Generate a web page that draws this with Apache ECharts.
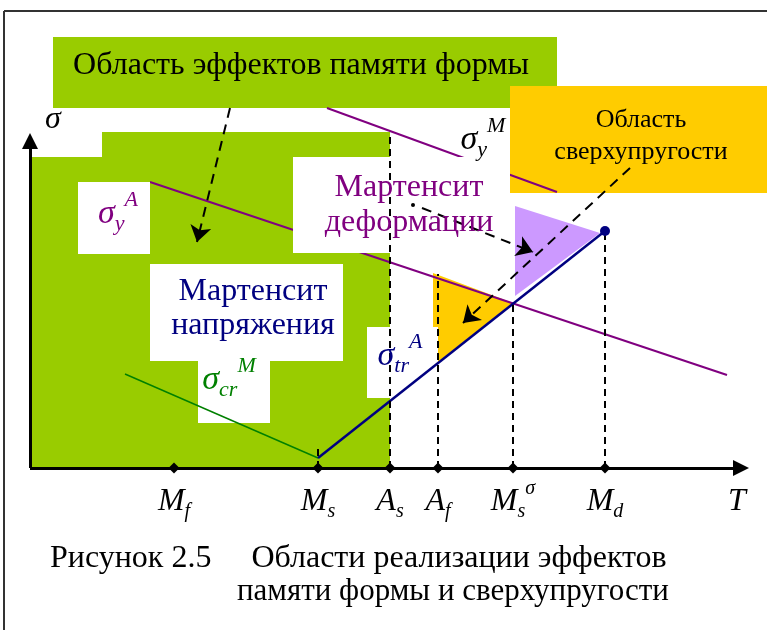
<!DOCTYPE html>
<html>
<head>
<meta charset="utf-8">
<script src="https://cdn.jsdelivr.net/npm/echarts@6/dist/echarts.min.js"></script>
<style>
    html, body { margin: 0; padding: 0; background: #fff; }
    #chart { width: 767px; height: 630px; }
</style>
</head>
<body>
<div id="chart"></div>
<script>
// Температуры на оси T (условные единицы)
const tickT = [14.4, 28.8, 36, 40.8, 48.3, 57.5];
const tickLabels = ['{m|M}{sub|f}', '{m|M}{sub|s}', '{m|A}{sub|s}', '{m|A}{sub|f}', '{m|M}{sub|s}{sup|σ}', '{m|M}{sub|d}'];

// Линии напряжений
const sigmaCrM = [[9.5, 9.4], [28.8, 1.0]];
const sigmaTrA = [[28.8, 1.0], [57.5, 23.7]];
const sigmaYA = [[12, 28.6], [69.7, 9.3]];
const sigmaYM = [[29.7, 36], [52.7, 27.6]];

// Вертикальные пунктиры (до какой высоты)
const dropT = [28.8, 36, 40.8, 48.3, 57.5];
const dropTop = [2.2, 33.6, 19.4, 16.5, 23.7];

// Области
const memoryRegion = [[0, 0], [0, 31.1], [7.2, 31.1], [7.2, 33.6], [36, 33.6], [36, 0]];
const afRegion = [[40.3, 19.5], [48.3, 16.5], [40.8, 10.6], [40.8, 14.1], [40.3, 14.1]];
const msdRegion = [[48.5, 26.2], [57, 23.5], [48.5, 17.2]];

// Плашки подписей [x0, y0, x1, y1]
const memoryBox = [2.3, 36, 52.7, 43.1];
const superBox = [48, 27.5, 73.7, 38.2];
const whiteBoxes = [
    [4.8, 21.4, 12, 28.6],
    [26.3, 21.5, 48, 31.1],
    [12, 10.7, 31.3, 20.4],
    [16.8, 4.5, 24, 10.7],
    [33.7, 7, 40.3, 14.1]
];

// Стрелки-выноски
const arrows = [
    [[20, 36], [16.7, 22.6]],
    [[39.2, 26], [50.3, 21.6]],
    [[60, 30], [43.3, 14.5]]
];
const arrowDot = [38.3, 26.3];
const mdPoint = [57.5, 23.7];

const FONT = 'Liberation Serif';

function rect(b) {
    return [[b[0], b[1]], [b[2], b[1]], [b[2], b[3]], [b[0], b[3]]];
}

function polySeries(polys, color, z) {
    return {
        type: 'custom',
        z: z,
        silent: true,
        clip: false,
        data: polys.map(p => p[0]),
        renderItem: function(params, api) {
            const pts = polys[params.dataIndex].map(p => api.coord(p));
            return { type: 'polygon', shape: { points: pts }, style: { fill: color } };
        }
    };
}

function seg(pts, color, width, z, type) {
    return {
        type: 'line',
        data: pts,
        symbol: 'none',
        silent: true,
        z: z,
        lineStyle: { color: color, width: width, type: type || 'solid' }
    };
}

const richSigma = function(color, size) {
    const s = size || 32;
    const k = Math.round(s * 0.64);
    return {
        m: { fontFamily: FONT, fontStyle: 'italic', fontSize: s, lineHeight: s, color: color },
        sub: { fontFamily: FONT, fontStyle: 'italic', fontSize: k, lineHeight: k, padding: [Math.round(s * 0.6), 0, 0, 0], color: color },
        sup: { fontFamily: FONT, fontStyle: 'italic', fontSize: k, lineHeight: k, padding: [0, 0, Math.round(s * 0.8), 0], color: color }
    };
};

function note(at, text, color, size, lh) {
    return {
        value: at,
        label: { formatter: text, color: color, fontSize: size, lineHeight: lh || size, fontFamily: FONT }
    };
}

function sym(at, text, color, size) {
    return {
        value: at,
        label: { formatter: text, rich: richSigma(color, size) }
    };
}

const notes = [
    note([27.1, 40.2], 'Область эффектов памяти формы', '#000', 32),
    note([61.1, 33.2], 'Область\nсверхупругости', '#000', 26, 32),
    note([37.9, 26.3], 'Мартенсит\nдеформации', '#800080', 32, 35),
    note([22.3, 15.9], 'Мартенсит\nнапряжения', '#000080', 32, 34),
    sym([2.3, 34.8], '{m|σ}', '#000', 32),
    sym([8.8, 25.4], '{m|σ}{sub|y}{sup|A}', '#800080', 34),
    sym([45.3, 32.8], '{m|σ}{sub|y}{sup|M}', '#000', 34),
    sym([19.9, 8.8], '{m|σ}{sub|cr}{sup|M}', '#008000', 34),
    sym([37, 11.2], '{m|σ}{sub|tr}{sup|A}', '#000080', 34),
    sym([70.7, -3.4], '{m|T}', '#000', 32)
];

const chart = echarts.init(document.getElementById('chart'));
const drops = dropT.map((t, i) => seg([[t, 0], [t, dropTop[i]]], '#000', 2, 5, [7, 5]));

chart.setOption({
    animation: false,
    grid: { left: 0, right: 0, top: 0, bottom: 0 },
    xAxis: { type: 'value', min: -3, max: 73.7, show: false },
    yAxis: { type: 'value', min: -16.2, max: 46.8, show: false },
    title: [
        { text: 'Рисунок 2.5     Области реализации эффектов', left: 45, top: 538,
          textStyle: { fontFamily: FONT, fontSize: 32, fontWeight: 'normal', color: '#000' } },
        { text: 'памяти формы и сверхупругости', left: 232, top: 571,
          textStyle: { fontFamily: FONT, fontSize: 31, fontWeight: 'normal', color: '#000' } }
    ],
    graphic: [
        { type: 'line', shape: { x1: 4, y1: 11, x2: 767, y2: 11 }, style: { stroke: '#333', lineWidth: 2 } },
        { type: 'line', shape: { x1: 4, y1: 11, x2: 4, y2: 630 }, style: { stroke: '#333', lineWidth: 2 } }
    ],
    series: [
        polySeries([memoryRegion], '#99cc00', 1),
        polySeries([rect(memoryBox)], '#99cc00', 1),
        polySeries([rect(superBox)], '#ffcc00', 1),
        polySeries([afRegion], '#ffcc00', 2),
        polySeries([msdRegion], '#cc99ff', 2),
        seg(sigmaYA, '#800080', 2, 3),
        seg(sigmaYM, '#800080', 2, 3),
        polySeries(whiteBoxes.map(rect), '#ffffff', 4),
        seg(sigmaCrM, '#008000', 1.5, 5),
        seg(sigmaTrA, '#000080', 2.5, 5),
        ...drops,
        {
            type: 'lines',
            coordinateSystem: 'cartesian2d',
            z: 6,
            silent: true,
            symbol: ['none', 'arrow'],
            symbolSize: 16,
            lineStyle: { color: '#000', width: 2, type: [10, 7], opacity: 1 },
            data: arrows.map(a => ({ coords: a }))
        },
        {
            type: 'lines',
            coordinateSystem: 'cartesian2d',
            z: 6,
            silent: true,
            symbol: ['none', 'triangle'],
            symbolSize: 16,
            lineStyle: { color: '#000', width: 3, opacity: 1 },
            data: [{ coords: [[0, 0], [71.1, 0]] }, { coords: [[0, 0], [0, 32.7]] }]
        },
        {
            type: 'scatter',
            z: 7,
            silent: true,
            symbol: 'diamond',
            symbolSize: [11, 11],
            itemStyle: { color: '#000', opacity: 1 },
            data: tickT.map(t => [t, 0])
        },
        {
            type: 'scatter',
            z: 7,
            silent: true,
            symbolSize: 10,
            itemStyle: { color: '#000080', opacity: 1 },
            data: [mdPoint]
        },
        {
            type: 'scatter',
            z: 7,
            silent: true,
            symbolSize: 4,
            itemStyle: { color: '#000', opacity: 1 },
            data: [arrowDot]
        },
        {
            type: 'scatter',
            z: 8,
            silent: true,
            symbolSize: 0,
            itemStyle: { opacity: 1 },
            label: {
                show: true,
                position: 'inside',
                opacity: 1,
                formatter: p => tickLabels[p.dataIndex],
                rich: richSigma('#000', 32)
            },
            data: tickT.map(t => [t, -3.4])
        },
        {
            type: 'scatter',
            z: 8,
            silent: true,
            symbolSize: 0,
            itemStyle: { opacity: 1 },
            label: { show: true, position: 'inside', align: 'center', opacity: 1 },
            data: notes
        }
    ]
});
</script>
</body>
</html>
